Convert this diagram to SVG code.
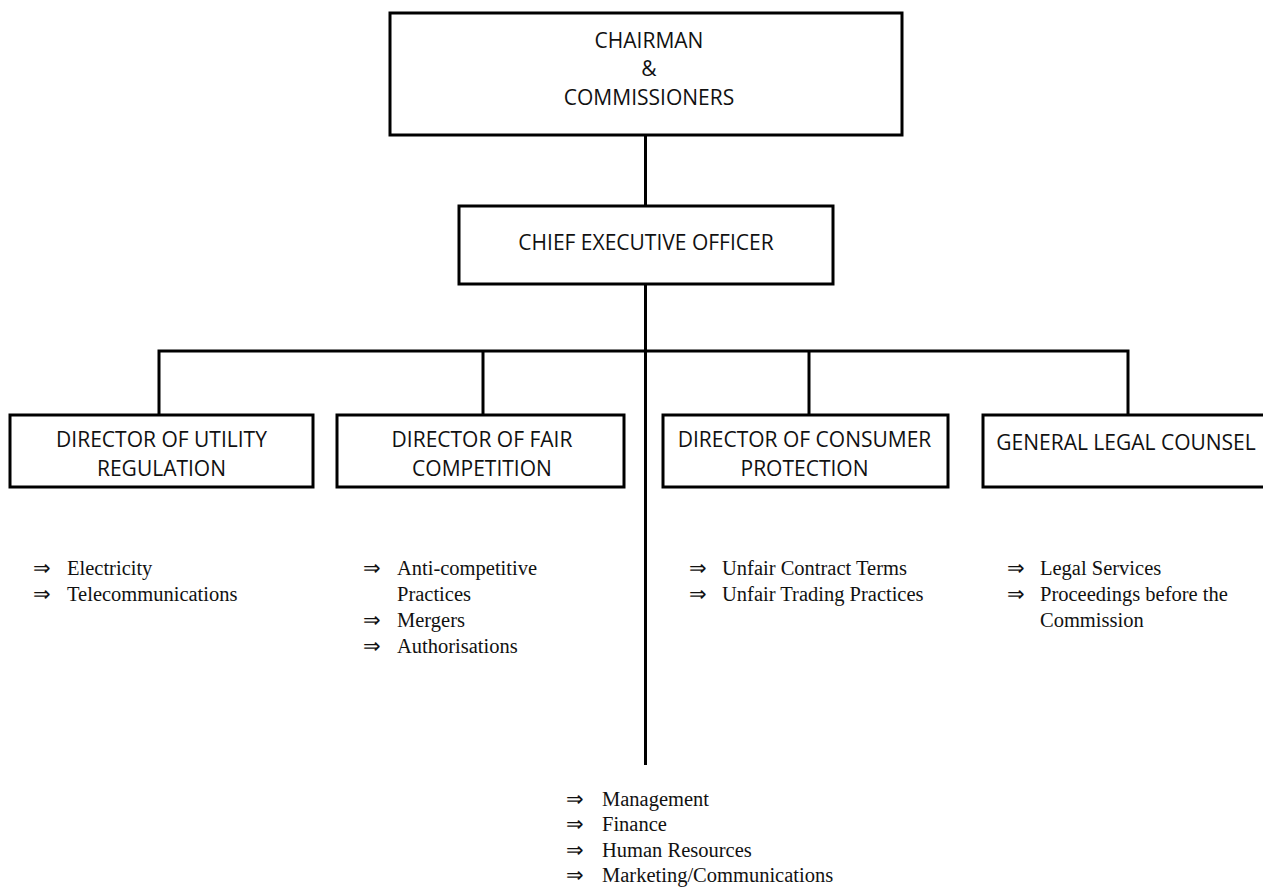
<svg xmlns="http://www.w3.org/2000/svg" width="1263" height="888" viewBox="0 0 1263 888">
<style>
.box{fill:#fff;stroke:#000;stroke-width:3}
.lbl{font-family:"Open Sans","DejaVu Sans",sans-serif;font-size:21px;fill:#111;text-anchor:middle}
.conn{stroke:#000;stroke-width:3;fill:none}
.li{font-family:"Liberation Serif","Times New Roman",serif;font-size:20.5px;fill:#111}
</style>
<rect width="1263" height="888" fill="#fff"/>
<g id="connectors">
<line class="conn" x1="645.5" y1="135" x2="645.5" y2="206"/>
<line class="conn" x1="645.5" y1="284" x2="645.5" y2="765"/>
<polyline class="conn" points="159,415 159,351 1128,351 1128,415"/>
<line class="conn" x1="483" y1="351" x2="483" y2="415"/>
<line class="conn" x1="809" y1="351" x2="809" y2="415"/>
</g>
<g id="chairman">
<rect class="box" x="390" y="13" width="512" height="122"/>
<text class="lbl" x="649" y="48">CHAIRMAN</text>
<text class="lbl" x="649" y="76">&amp;</text>
<text class="lbl" x="649" y="105">COMMISSIONERS</text>
</g>
<g id="ceo">
<rect class="box" x="459" y="206" width="374" height="78"/>
<text class="lbl" x="646" y="250">CHIEF EXECUTIVE OFFICER</text>
</g>
<g id="utility">
<rect class="box" x="10" y="415" width="303" height="72"/>
<text class="lbl" x="161.5" y="447">DIRECTOR OF UTILITY</text>
<text class="lbl" x="161.5" y="476">REGULATION</text>
</g>
<g id="fair">
<rect class="box" x="337" y="415" width="287" height="72"/>
<text class="lbl" x="482" y="447">DIRECTOR OF FAIR</text>
<text class="lbl" x="482" y="476">COMPETITION</text>
</g>
<g id="consumer">
<rect class="box" x="663" y="415" width="285" height="72"/>
<text class="lbl" x="804.5" y="447">DIRECTOR OF CONSUMER</text>
<text class="lbl" x="804.5" y="476">PROTECTION</text>
</g>
<g id="legal">
<rect class="box" x="983" y="415" width="300" height="72"/>
<text class="lbl" x="1126" y="450">GENERAL LEGAL COUNSEL</text>
</g>
<g id="utility-list" class="li">
<text x="33" y="575">⇒</text><text x="67" y="575">Electricity</text>
<text x="33" y="601">⇒</text><text x="67" y="601">Telecommunications</text>
</g>
<g id="fair-list" class="li">
<text x="363" y="575">⇒</text><text x="397" y="575">Anti-competitive</text>
<text x="397" y="601">Practices</text>
<text x="363" y="627">⇒</text><text x="397" y="627">Mergers</text>
<text x="363" y="653">⇒</text><text x="397" y="653">Authorisations</text>
</g>
<g id="consumer-list" class="li">
<text x="689" y="575">⇒</text><text x="722" y="575">Unfair Contract Terms</text>
<text x="689" y="601">⇒</text><text x="722" y="601">Unfair Trading Practices</text>
</g>
<g id="legal-list" class="li">
<text x="1007" y="575">⇒</text><text x="1040" y="575">Legal Services</text>
<text x="1007" y="601">⇒</text><text x="1040" y="601">Proceedings before the</text>
<text x="1040" y="627">Commission</text>
</g>
<g id="support-list" class="li">
<text x="566" y="806">⇒</text><text x="602" y="806">Management</text>
<text x="566" y="831">⇒</text><text x="602" y="831">Finance</text>
<text x="566" y="857">⇒</text><text x="602" y="857">Human Resources</text>
<text x="566" y="882">⇒</text><text x="602" y="882">Marketing/Communications</text>
</g>
</svg>
